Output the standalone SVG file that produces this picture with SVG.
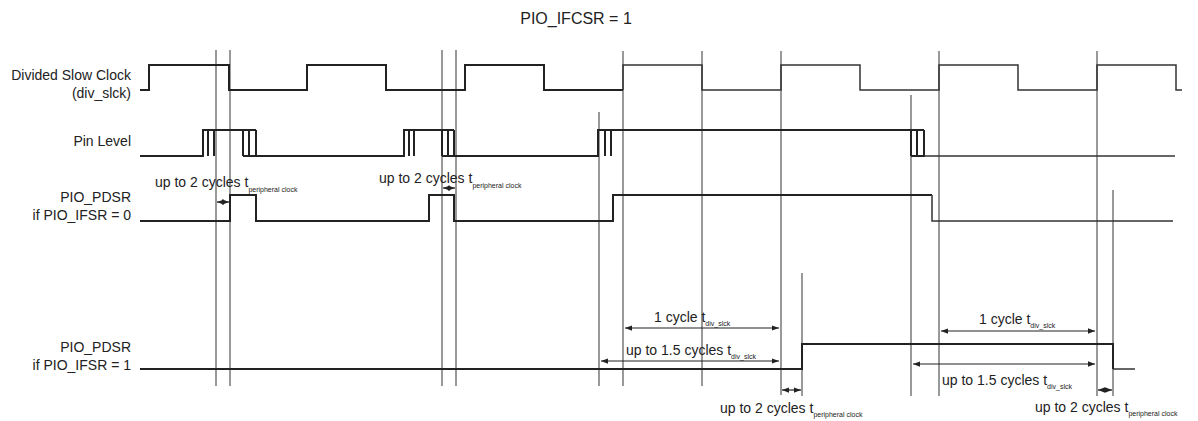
<svg xmlns="http://www.w3.org/2000/svg" width="1198" height="421" viewBox="0 0 1198 421">
<defs>
<marker id="ah" viewBox="0 0 8 8" refX="8" refY="4" markerWidth="6" markerHeight="6" orient="auto-start-reverse"><path d="M0,1 L8,4 L0,7 z" fill="#222"/></marker>
<style>
text{font-family:"Liberation Sans",Arial,sans-serif;fill:#222}
.t{font-size:14px}.s{font-size:7px}.title{font-size:16px}
.sig{fill:none;stroke:#222;stroke-width:2}
.thin{fill:none;stroke:#333;stroke-width:1.5}
.g{stroke:#555;stroke-width:1.2}
.dim{stroke:#222;stroke-width:1.2;marker-start:url(#ah);marker-end:url(#ah)}
</style>
</defs>
<rect width="1198" height="421" fill="#fff"/>
<text class="title" x="576" y="24" text-anchor="middle">PIO_IFCSR = 1</text>
<g id="grid">
<line class="g" x1="216" y1="50" x2="216" y2="386"/><line class="g" x1="230" y1="50" x2="230" y2="386"/>
<line class="g" x1="442" y1="50" x2="442" y2="386"/><line class="g" x1="456" y1="50" x2="456" y2="386"/>
<line class="g" x1="623" y1="51" x2="623" y2="386"/><line class="g" x1="702" y1="51" x2="702" y2="386"/>
<line class="g" x1="781" y1="51" x2="781" y2="395"/><line class="g" x1="939" y1="51" x2="939" y2="396"/>
<line class="g" x1="1097" y1="51" x2="1097" y2="396"/>
<line class="g" x1="599" y1="112" x2="599" y2="386"/><line class="g" x1="911" y1="95" x2="911" y2="396"/>
<line class="g" x1="802" y1="273" x2="802" y2="396"/><line class="g" x1="1113" y1="190" x2="1113" y2="396"/>
</g>
<g id="clock">
<text class="t" x="131" y="80" text-anchor="end">Divided Slow Clock</text>
<text class="t" x="131" y="98" text-anchor="end">(div_slck)</text>
<path class="sig" d="M140,90 H149 V65 H229 V90 H307 V65 H386 V90 H465 V65 H544 V90 H623"/>
<path class="thin" d="M623,90 V65 H702 V90 H781 V65 H860 V90 H939 V65 H1018 V90 H1097 V65 H1176 V90 H1182"/>
</g>
<g id="pin">
<text class="t" x="131" y="146" text-anchor="end">Pin Level</text>
<path class="sig" d="M140,156 H203 V130 H214 M208,130 V156 M214,130 V156 M203,130 H256 M243,130 V156 M249,130 V156 M256,130 V156 H243 M256,156 H404 V130 H414 V156 M409,130 V156 M404,130 H454 M442,130 V156 M448,130 V156 M454,130 V156 H442 M454,156 H598 V130 H611 V156 M605,130 V156 M598,130 H924 M911,130 V156 M917,130 V156 M924,130 V156 H911"/>
<path class="thin" d="M924,156 H1175"/>
</g>
<g id="pdsr0">
<text class="t" x="131" y="202" text-anchor="end">PIO_PDSR</text>
<text class="t" x="131" y="220" text-anchor="end">if PIO_IFSR = 0</text>
<path class="sig" d="M140,221 H230 V195 H256 V221 H429 V195 H454 V221 H613 V195 H932"/>
<path class="thin" d="M932,195 V221 H1173"/>
</g>
<g id="pdsr1">
<text class="t" x="131" y="352" text-anchor="end">PIO_PDSR</text>
<text class="t" x="131" y="370" text-anchor="end">if PIO_IFSR = 1</text>
<path class="sig" d="M140,369 H802 V344 H1113 V369"/>
<path class="thin" d="M1113,369 H1135"/>
</g>
<g id="connectors">
<line class="dim" x1="217" y1="202" x2="229" y2="202"/>
<line class="dim" x1="443" y1="188" x2="455" y2="188"/>
<line class="dim" x1="625" y1="328" x2="779" y2="328"/>
<line class="dim" x1="601" y1="361" x2="779" y2="361"/>
<line class="dim" x1="782" y1="390" x2="801" y2="390"/>
<line class="dim" x1="941" y1="331" x2="1095" y2="331"/>
<line class="dim" x1="913" y1="364" x2="1095" y2="364"/>
<line class="dim" x1="1098" y1="390" x2="1112" y2="390"/>
</g>
<g id="labels">
<text class="t" x="155" y="187">up to 2 cycles t<tspan class="s" dy="5">peripheral clock</tspan></text>
<text class="t" x="379" y="183">up to 2 cycles t<tspan class="s" dy="5">peripheral clock</tspan></text>
<text class="t" x="654" y="322">1 cycle t<tspan class="s" dy="4">div_slck</tspan></text>
<text class="t" x="626" y="355">up to 1.5 cycles t<tspan class="s" dy="4">div_slck</tspan></text>
<text class="t" x="720" y="413">up to 2 cycles t<tspan class="s" dy="4">peripheral clock</tspan></text>
<text class="t" x="979" y="324">1 cycle t<tspan class="s" dy="4">div_slck</tspan></text>
<text class="t" x="942" y="385">up to 1.5 cycles t<tspan class="s" dy="4">div_slck</tspan></text>
<text class="t" x="1035" y="412">up to 2 cycles t<tspan class="s" dy="4">peripheral clock</tspan></text>
</g>
</svg>
